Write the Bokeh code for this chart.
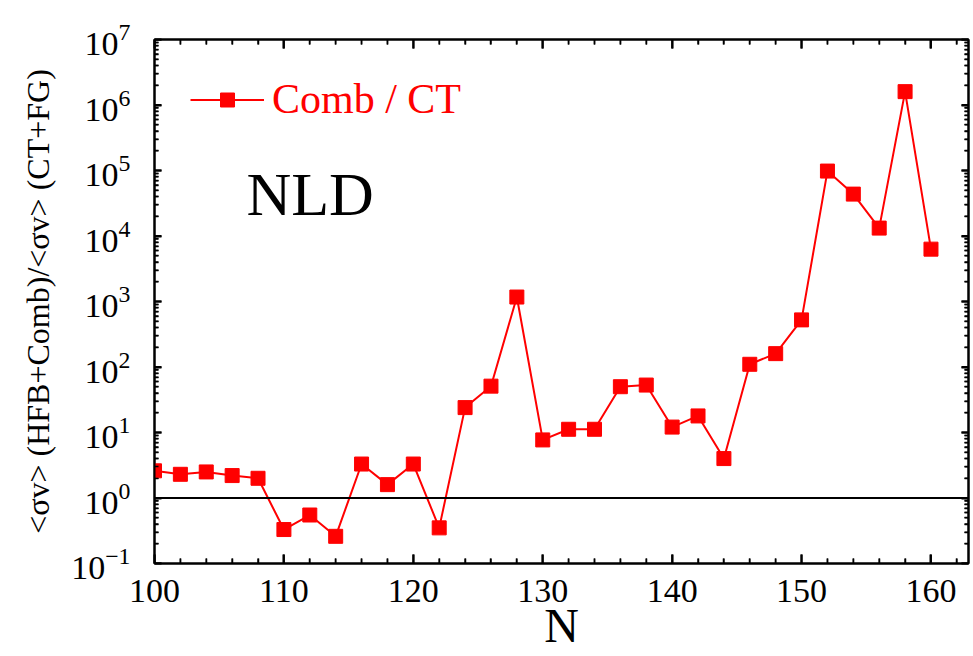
from bokeh.plotting import figure
from bokeh.models import (Range1d, FixedTicker, LinearAxis, LogAxis, Span, Label, Title,
                          Legend, LegendItem, ColumnDataSource, CustomLabelingPolicy)
from bokeh.embed import file_html
from bokeh.resources import INLINE

# ---- data ----
N = [100, 102, 104, 106, 108, 110, 112, 114, 116, 118, 120, 122, 124, 126, 128, 130,
     132, 134, 136, 138, 140, 142, 144, 146, 148, 150, 152, 154, 156, 158, 160]
ratio = [2.6, 2.3, 2.5, 2.2, 2.0, 0.33, 0.55, 0.26, 3.3, 1.6, 3.3, 0.35, 24, 51, 1170, 7.7,
         11.2, 11.2, 50, 53, 12.1, 17.9, 4.0, 110, 160, 524, 98000, 43600, 13200, 1.6e6, 6300]
series_label = "Comb / CT"
panel_text = "NLD"
x_title = "N"
y_title = "<σv> (HFB+Comb)/<σv> (CT+FG)"
x_major = [100, 110, 120, 130, 140, 150, 160]
x_minor = [102, 104, 106, 108, 112, 114, 116, 118, 122, 124, 126, 128, 132, 134, 136, 138,
           142, 144, 146, 148, 152, 154, 156, 158, 162]
y_major = [1e-1, 1e0, 1e1, 1e2, 1e3, 1e4, 1e5, 1e6, 1e7]
y_minor = [m * d for d in y_major[:-1] for m in range(2, 10)]
ref_level = 1.0

FONT = "Liberation Serif"
RED = "#ff0000"

W, H = 973, 656
BL, BR, BT, BB = 154, 1, 39, 93
X0, X1 = 100, 162.9
Y0, Y1 = 1e-1, 1e7

src = ColumnDataSource(dict(N=N, ratio=ratio))

p = figure(width=W, height=H, y_axis_type="log",
           x_range=Range1d(X0, X1), y_range=Range1d(Y0, Y1),
           output_backend="svg", toolbar_location=None,
           min_border_left=BL, min_border_right=BR, min_border_top=BT, min_border_bottom=BB)
p.xgrid.visible = False
p.ygrid.visible = False
p.outline_line_color = "black"
p.outline_line_width = 2
p.background_fill_color = "white"
p.border_fill_color = "white"

hide_all = CustomLabelingPolicy(code="""
for (const i of Array.from(indices)) indices.unset(i);
return indices;
""")
p.add_layout(LinearAxis(major_label_policy=hide_all, major_label_text_font_size="1px",
                        major_label_standoff=0), "above")
p.add_layout(LogAxis(major_label_policy=hide_all, major_label_text_font_size="1px",
                     major_label_standoff=0), "right")

xt = FixedTicker(ticks=x_major, minor_ticks=x_minor)
yt = FixedTicker(ticks=y_major, minor_ticks=y_minor)
XMAJ, XMIN, YMAJ, YMIN = 9, 5, 7, 4
for ax in p.xaxis:
    ax.ticker = xt
    ax.major_tick_in = XMAJ
    ax.minor_tick_in = XMIN
for ax in p.yaxis:
    ax.ticker = yt
    ax.major_tick_in = YMAJ
    ax.minor_tick_in = YMIN
for ax in p.xaxis + p.yaxis:
    ax.axis_line_width = 2
    ax.major_tick_line_width = 2
    ax.minor_tick_line_width = 1.5
    ax.major_tick_out = 0
    ax.minor_tick_out = 0
    ax.major_label_text_font = FONT
    ax.major_label_text_color = "black"

bx = p.below[0]
bx.major_label_text_font_size = "34px"
bx.major_label_standoff = 16
bx.axis_label = x_title
bx.axis_label_text_font = FONT
bx.axis_label_text_font_size = "48px"
bx.axis_label_text_font_style = "normal"
bx.axis_label_text_color = "black"
bx.axis_label_standoff = -6

ly = p.left[0]
ly.major_label_text_font_size = "34px"
ly.major_label_standoff = 24

# y title in the left margin, shifted upward as in the reference
p.add_layout(Title(text=y_title, align="center", offset=100, standoff=25,
                   text_font=FONT, text_font_size="32px", text_font_style="normal",
                   text_color="black"), "left")

# inward tick marks along the frame (mirrors the axis tickers, drawn via the data scales)
fw = W - BL - BR
fh = H - BT - BB
px_x = fw / (X1 - X0)
px_dec = fh / 8.0

def vticks(ticks, length):
    f = 10 ** (length / px_dec)
    xs = ticks + ticks
    ys0 = [Y0] * len(ticks) + [Y1] * len(ticks)
    ys1 = [Y0 * f] * len(ticks) + [Y1 / f] * len(ticks)
    return xs, ys0, xs, ys1

def hticks(ticks, length):
    d = length / px_x
    xs0 = [X0] * len(ticks) + [X1] * len(ticks)
    xs1 = [X0 + d] * len(ticks) + [X1 - d] * len(ticks)
    return xs0, ticks + ticks, xs1, ticks + ticks

for (x0, y0, x1, y1), w in ((vticks(x_major, XMAJ), 2), (vticks(x_minor, XMIN), 1.5),
                            (hticks(y_major, YMAJ), 2), (hticks(y_minor, YMIN), 1.5)):
    p.segment(x0=x0, y0=y0, x1=x1, y1=y1, line_color="black", line_width=w)

r_line = p.line("N", "ratio", source=src, line_color=RED, line_width=2)
r_sq = p.scatter("N", "ratio", source=src, marker="square", size=14,
                 fill_color=RED, line_color=RED)

p.add_layout(Span(location=ref_level, dimension="width", line_color="black", line_width=2))

legend = Legend(items=[LegendItem(label=series_label, renderers=[r_line, r_sq])],
                location="top_left", margin=0, padding=36,
                glyph_width=74, glyph_height=35, label_standoff=8,
                label_text_font=FONT, label_text_font_size="42px",
                label_text_color=RED, background_fill_alpha=0, border_line_alpha=0)
p.add_layout(legend)

p.add_layout(Label(x=107.1, y=4.4e4, text=panel_text, text_font=FONT, text_font_size="62px",
                   text_color="black", text_align="left", text_baseline="alphabetic"))

open("out.html", "w").write(file_html(p, INLINE))
